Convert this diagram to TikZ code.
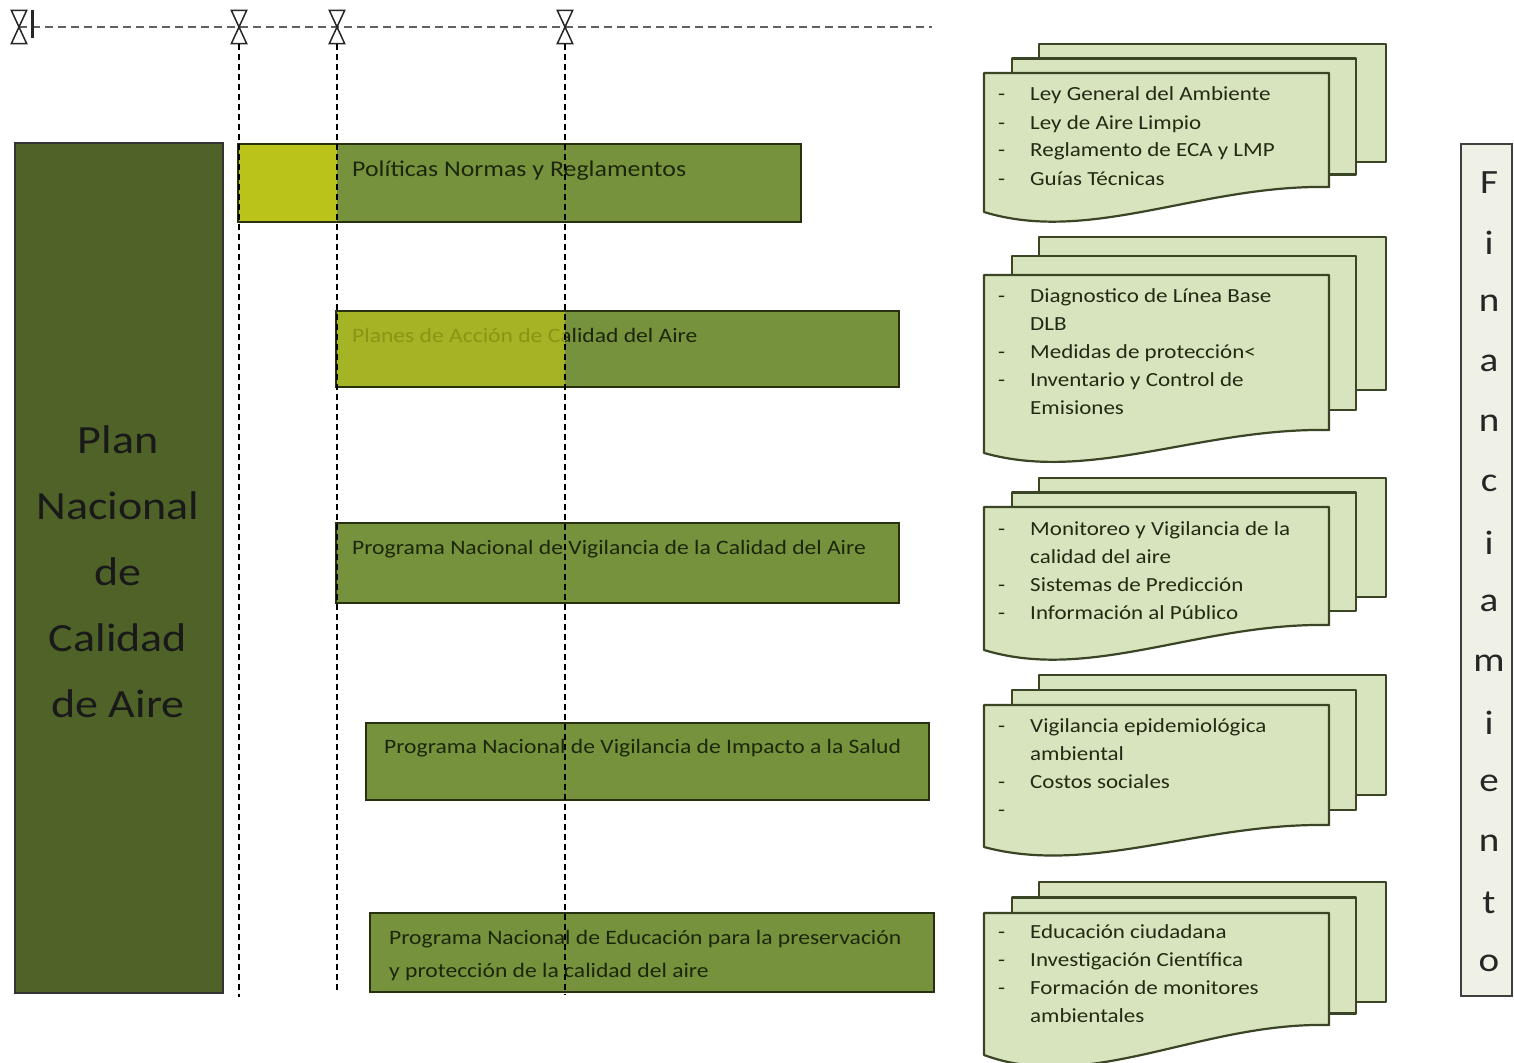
\documentclass[tikz,border=0pt]{standalone}
\usepackage{fontspec}
\setmainfont{Carlito}[FakeStretch=1.15]
\definecolor{bigfill}{HTML}{4F6228}
\definecolor{barg}{HTML}{76923C}
\definecolor{bary}{HTML}{B9C31A}
\definecolor{barline}{HTML}{27300F}
\definecolor{docfill}{HTML}{D7E4BD}
\definecolor{docline}{HTML}{3A4526}
\definecolor{finfill}{HTML}{EFF1E6}
\definecolor{bartxt}{HTML}{1C260A}
\definecolor{doctxt}{HTML}{222A14}
\newcommand\mydocs[5]{%
  \draw[docpage] (1039,#1) rectangle (1386,#3);
  \draw[docpage] (1012,{(#1+#2)/2}) rectangle (1356,{(#3+#4)/2});
  \draw[docpage] (984,#2) -- (1329,#2) -- (1329,#4)
     .. controls (1200,{#4-0.1*(#5-#4)}) and (1090,{#5+1.3*(#5-#4)}) .. (984,#5) -- cycle;
}
\begin{document}
\begin{tikzpicture}[x=1pt,y=-1pt,
  bigbox/.style={draw=black!80,line width=1.6pt,fill=bigfill,inner sep=0,anchor=north west},
  barbox/.style={fill=barg,inner sep=0,anchor=north west},
  ybox/.style={fill=bary,inner sep=0,anchor=north west},
  barborder/.style={draw=barline,line width=2pt},
  bartext/.style={anchor=base west,inner sep=0,text=bartxt,font=\fontsize{20.5}{27}\selectfont},
  docpage/.style={draw=docline,line width=2.2pt,fill=docfill,line join=round},
  dtext/.style={anchor=base west,inner sep=0,text=doctxt,font=\fontsize{20}{28}\selectfont},
  bigtext/.style={anchor=base,inner sep=0,text=black!90,font=\fontsize{40}{66}\selectfont},
  fintext/.style={anchor=center,inner sep=0,text=black!85,font=\fontsize{34}{40}\selectfont},
  hourglass/.style={inner sep=0,minimum width=15pt,minimum height=33pt},
  hgline/.style={draw=black!85,line width=1.5pt,line join=miter},
  vdash/.style={draw=black,line width=1.6pt,dash pattern=on 6pt off 4pt},
  hdash/.style={draw=black!62,line width=2.8pt,dash pattern=on 8pt off 5pt}
]
\useasboundingbox[fill=white] (0,0) rectangle (1514,1062);

% big left box
\node[bigbox,minimum width=208pt,minimum height=850pt] (plan) at (14,142) {};
\node[bigtext] (p1) at (118,453) {Plan};
\node[bigtext] (p2) at (118,519) {Nacional};
\node[bigtext] (p3) at (118,585) {de};
\node[bigtext] (p4) at (118,651) {Calidad};
\node[bigtext] (p5) at (118,717) {de Aire};

% bars
\node[barbox,minimum width=563pt,minimum height=78pt] (b1) at (238,144) {};
\node[ybox,minimum width=99pt,minimum height=78pt] (y1) at (238,144) {};
\draw[barborder] (b1.north west) rectangle (b1.south east);
\node[bartext,font=\fontsize{22.5}{27}\selectfont] (t1) at (352,176) {Políticas Normas y Reglamentos};

\node[barbox,minimum width=563pt,minimum height=76pt] (b2) at (336,311) {};
\node[bartext] (t2) at (352,342) {Planes de Acción de Calidad del Aire};
\node[ybox,minimum width=229pt,minimum height=76pt,opacity=0.7] (y2) at (336,311) {};
\draw[barborder] (b2.north west) rectangle (b2.south east);

\node[barbox,minimum width=563pt,minimum height=80pt] (b3) at (336,523) {};
\draw[barborder] (b3.north west) rectangle (b3.south east);
\node[bartext] (t3) at (352,554) {Programa Nacional de Vigilancia de la Calidad del Aire};

\node[barbox,minimum width=563pt,minimum height=77pt] (b4) at (366,723) {};
\draw[barborder] (b4.north west) rectangle (b4.south east);
\node[bartext] (t4) at (384,753) {Programa Nacional de Vigilancia de Impacto a la Salud};

\node[barbox,minimum width=564pt,minimum height=79pt] (b5) at (370,913) {};
\draw[barborder] (b5.north west) rectangle (b5.south east);
\node[bartext] (t5a) at (389,944) {Programa Nacional de Educación para la preservación};
\node[bartext] (t5b) at (389,977) {y protección de la calidad del aire};

% milestones
\node[hourglass] (m1) at (19,27) {};
\node[hourglass] (m2) at (239,27) {};
\node[hourglass] (m3) at (337,27) {};
\node[hourglass] (m4) at (565,27) {};
\coordinate (hend) at (932,27);
\draw[hdash] (m1.center) -- (hend);
\foreach \m in {m1,m2,m3,m4}
  \draw[hgline] (\m.north west) -- (\m.north east) -- (\m.south west) -- (\m.south east) -- cycle;
\draw[line width=3pt,black!85] (32,10) -- (32,38);
\coordinate (l2) at (239,997);
\coordinate (l3) at (337,990);
\coordinate (l4) at (565,995);
\draw[vdash] (m2.south) -- (l2);
\draw[vdash] (m3.south) -- (l3);
\draw[vdash] (m4.south) -- (l4);

% document stacks
\mydocs{44}{73}{162}{187}{212}
\node[dtext] (d1ad) at (998,101) {-};  \node[dtext] (d1a) at (1030,101) {Ley General del Ambiente};
\node[dtext] (d1bd) at (998,129) {-};  \node[dtext] (d1b) at (1030,129) {Ley de Aire Limpio};
\node[dtext] (d1cd) at (998,157) {-};  \node[dtext] (d1c) at (1030,157) {Reglamento de ECA y LMP};
\node[dtext] (d1dd) at (998,185) {-};  \node[dtext] (d1d) at (1030,185) {Guías Técnicas};

\mydocs{237}{275}{390}{430}{453}
\node[dtext] (d2ad) at (998,302) {-};  \node[dtext] (d2a) at (1030,302) {Diagnostico de Línea Base};
\node[dtext] (d2a2) at (1030,330) {DLB};
\node[dtext] (d2bd) at (998,358) {-};  \node[dtext] (d2b) at (1030,358) {Medidas de protección<};
\node[dtext] (d2cd) at (998,386) {-};  \node[dtext] (d2c) at (1030,386) {Inventario y Control de};
\node[dtext] (d2c2) at (1030,414) {Emisiones};

\mydocs{478}{507}{597}{625}{650}
\node[dtext] (d3ad) at (998,535) {-};  \node[dtext] (d3a) at (1030,535) {Monitoreo y Vigilancia de la};
\node[dtext] (d3a2) at (1030,563) {calidad del aire};
\node[dtext] (d3bd) at (998,591) {-};  \node[dtext] (d3b) at (1030,591) {Sistemas de Predicción};
\node[dtext] (d3cd) at (998,619) {-};  \node[dtext] (d3c) at (1030,619) {Información al Público};

\mydocs{675}{705}{795}{825}{847}
\node[dtext] (d4ad) at (998,732) {-};  \node[dtext] (d4a) at (1030,732) {Vigilancia epidemiológica};
\node[dtext] (d4a2) at (1030,760) {ambiental};
\node[dtext] (d4bd) at (998,788) {-};  \node[dtext] (d4b) at (1030,788) {Costos sociales};
\node[dtext] (d4cd) at (998,816) {-};

\mydocs{882}{913}{1002}{1025}{1055}
\node[dtext] (d5ad) at (998,938) {-};  \node[dtext] (d5a) at (1030,938) {Educación ciudadana};
\node[dtext] (d5bd) at (998,966) {-};  \node[dtext] (d5b) at (1030,966) {Investigación Científica};
\node[dtext] (d5cd) at (998,994) {-};  \node[dtext] (d5c) at (1030,994) {Formación de monitores};
\node[dtext] (d5c2) at (1030,1022) {ambientales};

% Financiamiento
\node[draw=black!75,line width=1.5pt,fill=finfill,inner sep=0,anchor=north west,
      minimum width=51pt,minimum height=852pt] (fin) at (1460,143) {};
\foreach \ch [count=\k from 0] in {F,i,n,a,n,c,i,a,m,i,e,n,t,o}
  \node[fintext] (f\k) at (1489,{183+60*\k}) {\ch};
\end{tikzpicture}
\end{document}
